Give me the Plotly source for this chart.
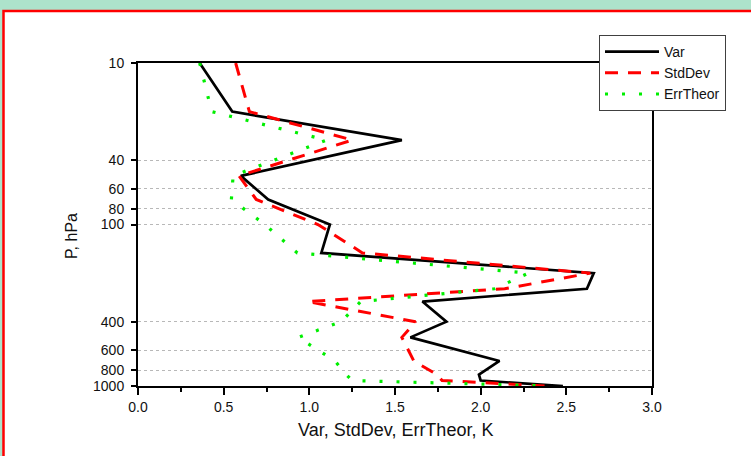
import plotly.graph_objects as go

# Pressure levels (hPa) and profiles (K)
pressure = [10, 20, 30, 50, 70, 100, 150, 200, 250, 300, 400, 500, 700, 850, 925, 1000]
var_k = [0.36, 0.55, 1.54, 0.60, 0.76, 1.12, 1.07, 2.66, 2.62, 1.66, 1.80, 1.59, 2.11, 1.99, 2.00, 2.48]
stddev_k = [0.57, 0.65, 1.25, 0.59, 0.69, 1.05, 1.31, 2.64, 2.14, 0.99, 1.62, 1.54, 1.61, 1.745, 1.775, 2.38]
errtheor_k = [0.36, 0.43, 1.10, 0.555, 0.545, 0.74, 0.93, 2.28, 2.08, 1.30, 1.185, 0.935, 1.15, 1.215, 1.25, 2.40]

x_ticks = [0.0, 0.5, 1.0, 1.5, 2.0, 2.5, 3.0]
y_ticks = [10, 40, 60, 80, 100, 400, 600, 800, 1000]

FONT = "Liberation Sans, Arial, sans-serif"
W, H = 751, 456
L, R, T, B = 138, 99, 63, 70
PW, PH = W - L - R, H - T - B


def px_x(px):
    return (px - L) / PW


def px_y(py):
    return (H - B - py) / PH


fig = go.Figure()
fig.add_trace(go.Scatter(x=var_k, y=pressure, mode="lines", name="Var",
                         line=dict(color="black", width=2.7)))
fig.add_trace(go.Scatter(x=stddev_k, y=pressure, mode="lines", name="StdDev",
                         line=dict(color="#FF0000", width=3, dash="13px,10px")))
fig.add_trace(go.Scatter(x=errtheor_k, y=pressure, mode="lines", name="ErrTheor",
                         line=dict(color="#00EE00", width=3.2, dash="3px,14px")))

# white panel framed in red
fig.add_shape(type="rect", xref="paper", yref="paper",
              x0=px_x(3.5), x1=px_x(820), y0=px_y(520), y1=px_y(11),
              line=dict(color="#FF0000", width=2.5), fillcolor="white", layer="below")

fig.add_annotation(text="Var, StdDev, ErrTheor, K", xref="paper", yref="paper",
                   x=0.5, y=px_y(430), xanchor="center", yanchor="middle",
                   showarrow=False, font=dict(family=FONT, size=18, color="#111"))
fig.add_annotation(text="P, hPa", xref="paper", yref="paper",
                   x=px_x(71), y=px_y(236), xanchor="center", yanchor="middle",
                   textangle=-90, showarrow=False,
                   font=dict(family=FONT, size=16, color="#111"))

fig.update_xaxes(range=[0, 3], tickvals=x_ticks, ticktext=[f"{v:.1f}" for v in x_ticks],
                 ticks="outside", ticklen=7, tickwidth=1.5, tickcolor="black",
                 showline=True, linewidth=2, linecolor="black", mirror=True,
                 showgrid=False, zeroline=False,
                 minor=dict(dtick=0.25, ticks="outside", ticklen=4, tickwidth=1.5,
                            tickcolor="black", showgrid=False),
                 tickfont=dict(family=FONT, size=14, color="#111"))
fig.update_yaxes(type="log", range=[3, 1], tickvals=y_ticks, ticktext=[str(v) for v in y_ticks],
                 ticks="outside", ticklen=5, tickwidth=1.5, tickcolor="black",
                 showline=True, linewidth=2, linecolor="black", mirror=True,
                 showgrid=True, gridcolor="#b8b8b8", gridwidth=1, griddash="dot",
                 zeroline=False, ticklabelstandoff=4,
                 tickfont=dict(family=FONT, size=14, color="#111"))

fig.update_layout(
    width=W, height=H,
    margin=dict(l=L, r=R, t=T, b=B),
    paper_bgcolor="#ADE3CB", plot_bgcolor="white",
    showlegend=True,
    legend=dict(x=px_x(599), y=px_y(35), xanchor="left", yanchor="top",
                bgcolor="white", bordercolor="#404040", borderwidth=1,
                font=dict(family=FONT, size=14, color="#111"),
                itemwidth=54, tracegroupgap=0),
)

fig.write_html("out.html")
